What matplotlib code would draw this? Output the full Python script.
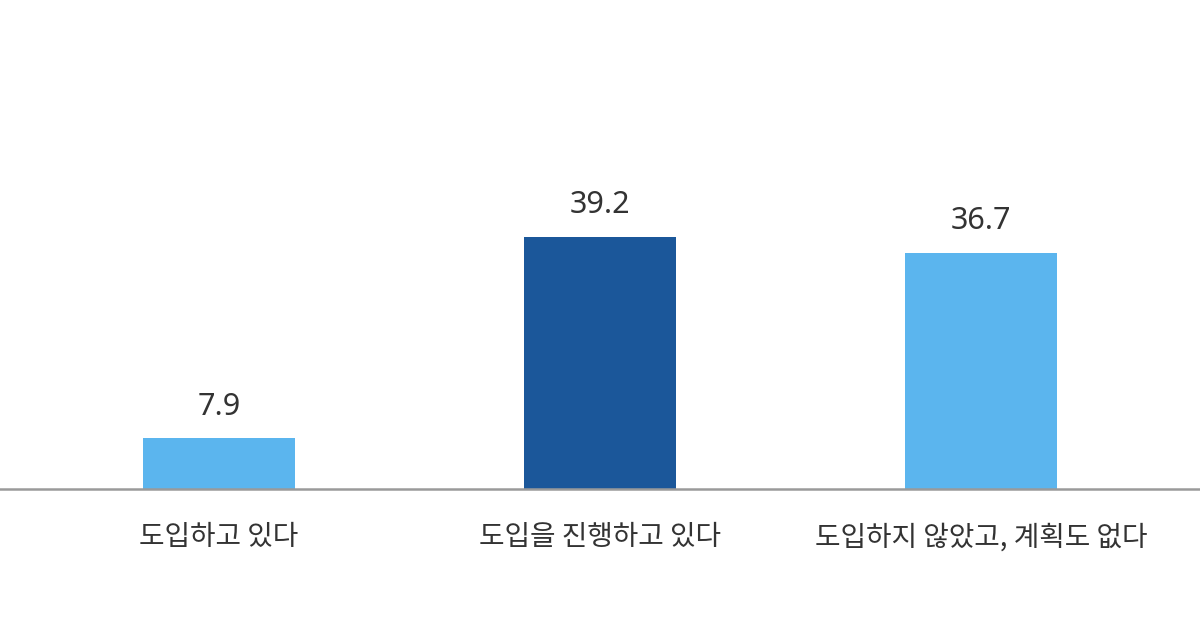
import matplotlib
matplotlib.use("Agg")
import matplotlib.pyplot as plt

categories = ["도입하고 있다", "도입을 진행하고 있다", "도입하지 않았고, 계획도 없다"]
values = [7.9, 39.2, 36.7]
value_labels = ["7.9", "39.2", "36.7"]
colors = ["#5BB5EE", "#1B579A", "#5BB5EE"]

plt.rcParams['font.family'] = ['Noto Sans CJK KR', 'DejaVu Sans']

fig = plt.figure(figsize=(12, 6.3), dpi=100)
ax = fig.add_axes([0, (630 - 489) / 630, 1, 489 / 630])

x = list(range(len(categories)))
bars = ax.bar(x, values, width=0.4, color=colors, zorder=2)

ax.set_xlim(-0.575, 2.575)
ax.set_ylim(0, 76)

for xi, v, lab in zip(x, values, value_labels):
    ax.annotate(lab, (xi, v), xytext=(0, 17), textcoords="offset points",
                ha="center", va="baseline", fontsize=22, color="#333333",
                family=['Noto Sans', 'DejaVu Sans'])

ax.set_xticks(x)
ax.set_xticklabels(categories, fontsize=20, color="#333333")
ax.tick_params(axis='x', length=0, pad=24)
ax.set_yticks([])
for s in ["top", "right", "left"]:
    ax.spines[s].set_visible(False)
ax.spines["bottom"].set_color("#9a9a9a")
ax.spines["bottom"].set_linewidth(1.8)

fig.savefig("out.png", dpi=100)
